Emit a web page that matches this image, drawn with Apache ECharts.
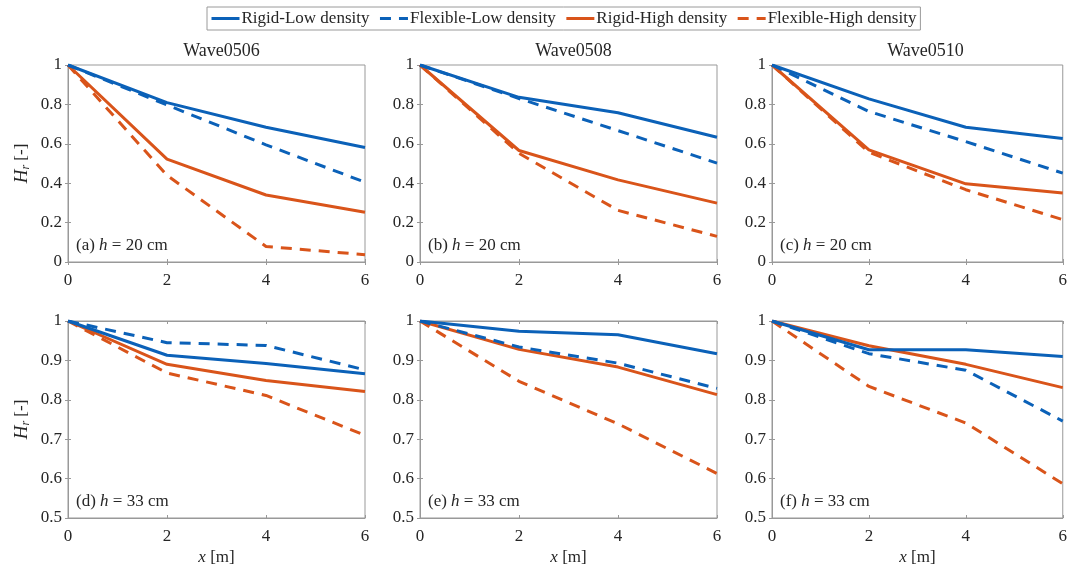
<!DOCTYPE html>
<html>
<head>
<meta charset="utf-8">
<script src="https://cdn.jsdelivr.net/npm/echarts@6/dist/echarts.min.js"></script>
<style>
  html, body { margin: 0; padding: 0; background: #fff; }
  #chart { width: 1070px; height: 567px; }
</style>
</head>
<body>
<div id="chart"></div>
<script>
// Distance along the vegetation patch [m]
const xValues = [0, 2, 4, 6];
const xTicks = [0, 2, 4, 6];

// Panel headings and annotations
const waveTitles = ['Wave0506', 'Wave0508', 'Wave0510'];
const panelTags = ['(a)', '(b)', '(c)', '(d)', '(e)', '(f)'];
const depthLabels = ['20 cm', '20 cm', '20 cm', '33 cm', '33 cm', '33 cm'];

// Relative wave height H_r per panel (a..f)
const rigidLow = [
  [1, 0.809, 0.684, 0.581],
  [1, 0.836, 0.758, 0.633],
  [1, 0.828, 0.684, 0.627],
  [1, 0.913, 0.892, 0.866],
  [1, 0.974, 0.965, 0.917],
  [1, 0.927, 0.927, 0.910]
];
const flexibleLow = [
  [1, 0.797, 0.595, 0.405],
  [1, 0.830, 0.667, 0.502],
  [1, 0.764, 0.611, 0.451],
  [1, 0.945, 0.938, 0.876],
  [1, 0.934, 0.893, 0.829],
  [1, 0.917, 0.875, 0.746]
];
const rigidHigh = [
  [1, 0.522, 0.340, 0.253],
  [1, 0.566, 0.417, 0.299],
  [1, 0.569, 0.397, 0.350],
  [1, 0.890, 0.849, 0.821],
  [1, 0.928, 0.883, 0.813],
  [1, 0.937, 0.890, 0.831]
];
const flexibleHigh = [
  [1, 0.440, 0.079, 0.037],
  [1, 0.552, 0.262, 0.130],
  [1, 0.557, 0.367, 0.215],
  [1, 0.868, 0.811, 0.710],
  [1, 0.847, 0.739, 0.613],
  [1, 0.834, 0.741, 0.587]
];

const seriesNames = ['Rigid-Low density', 'Flexible-Low density', 'Rigid-High density', 'Flexible-High density'];
const seriesData = [rigidLow, flexibleLow, rigidHigh, flexibleHigh];
const BLUE = '#0b61b8';
const ORANGE = '#d9541a';
const seriesColors = [BLUE, BLUE, ORANGE, ORANGE];
const seriesDash = ['solid', [11, 8], 'solid', [11, 8]];

const FONT = "'Liberation Serif', 'Times New Roman', serif";
const TEXT = '#262626';
const AXIS = '#999999';

const colLeft = [68, 420, 772];
const rowTop = [65, 321];
const gridW = 297;
const gridH = 197;

const grids = [], xAxes = [], yAxes = [], series = [], titles = [];

for (let p = 0; p < 6; p++) {
  const row = Math.floor(p / 3), col = p % 3;
  grids.push({
    left: colLeft[col], top: rowTop[row], width: gridW, height: gridH,
    show: true, borderColor: AXIS, borderWidth: 1, backgroundColor: '#fff'
  });
  const yMin = row === 0 ? 0 : 0.5;
  const yInt = row === 0 ? 0.2 : 0.1;
  const tick = { show: true, inside: true, length: 3, lineStyle: { color: AXIS } };
  const xName = row === 1 ? '{i|x} [m]' : '';
  xAxes.push({
    gridIndex: p, type: 'value', min: 0, max: 6, interval: 2,
    axisLine: { show: true, lineStyle: { color: AXIS } },
    axisTick: tick, splitLine: { show: false },
    axisLabel: { color: TEXT, fontFamily: FONT, fontSize: 17, margin: 10,
                 formatter: v => xTicks.includes(v) ? String(v) : '' },
    name: xName, nameLocation: 'middle', nameGap: 31,
    nameTextStyle: { color: TEXT, fontFamily: FONT, fontSize: 17,
      rich: { i: { fontStyle: 'italic', fontFamily: FONT, fontSize: 17, color: TEXT } } }
  });
  xAxes.push({
    gridIndex: p, type: 'value', min: 0, max: 6, interval: 2, position: 'top',
    axisLine: { show: true, lineStyle: { color: AXIS } },
    axisTick: tick, axisLabel: { show: false }, splitLine: { show: false }
  });
  const yName = col === 0 ? '{h|H}{r|r} [-]' : '';
  yAxes.push({
    gridIndex: p, type: 'value', min: yMin, max: 1, interval: yInt,
    axisLine: { show: true, lineStyle: { color: AXIS } },
    axisTick: tick, splitLine: { show: false },
    axisLabel: { color: TEXT, fontFamily: FONT, fontSize: 17, margin: 6,
                 formatter: v => String(Math.round(v * 10) / 10) },
    name: yName, nameLocation: 'middle', nameGap: 36, nameRotate: 90,
    nameTextStyle: { color: TEXT, fontFamily: FONT, fontSize: 17,
      rich: {
        h: { fontStyle: 'italic', fontFamily: FONT, fontSize: 19, color: TEXT },
        r: { fontStyle: 'italic', fontFamily: FONT, fontSize: 12, color: TEXT, verticalAlign: 'bottom', padding: [8, 0, 0, 0] }
      } }
  });
  yAxes.push({
    gridIndex: p, type: 'value', min: yMin, max: 1, interval: yInt, position: 'right',
    axisLine: { show: true, lineStyle: { color: AXIS } },
    axisTick: tick, axisLabel: { show: false }, splitLine: { show: false }
  });

  for (let s = 0; s < 4; s++) {
    series.push({
      name: seriesNames[s], type: 'line',
      xAxisIndex: p * 2, yAxisIndex: p * 2,
      data: xValues.map((x, k) => [x, seriesData[s][p][k]]),
      symbol: 'none', silent: true, animation: false,
      lineStyle: { color: seriesColors[s], width: 3, type: seriesDash[s] },
      itemStyle: { color: seriesColors[s] },
      z: 10 - s
    });
  }

  if (row === 0) {
    titles.push({
      text: waveTitles[col], left: colLeft[col] + gridW / 2, top: 37, textAlign: 'center',
      textStyle: { fontFamily: FONT, fontSize: 18, fontWeight: 'normal', color: TEXT }
    });
  }
  titles.push({
    text: panelTags[p] + ' {i|h} = ' + depthLabels[p],
    left: colLeft[col] + 3, top: rowTop[row] + gridH - 30,
    textStyle: { fontFamily: FONT, fontSize: 17, fontWeight: 'normal', color: TEXT,
      rich: { i: { fontStyle: 'italic', fontFamily: FONT, fontSize: 17, color: TEXT } } }
  });
}

const chart = echarts.init(document.getElementById('chart'), null, { renderer: 'canvas' });
chart.setOption({
  backgroundColor: '#fff',
  animation: false,
  title: titles,
  legend: {
    data: seriesNames, left: 207, top: 7,
    padding: [3, 4, 3, 3], itemGap: 9, itemWidth: 28, itemHeight: 14,
    borderColor: '#9a9a9a', borderWidth: 1,
    itemStyle: { color: 'rgba(0,0,0,0)', borderWidth: 0 },
    lineStyle: { width: 3 },
    textStyle: { fontFamily: FONT, fontSize: 17, color: TEXT, padding: [0, 0, 0, -3] },
    selectedMode: false
  },
  grid: grids,
  xAxis: xAxes,
  yAxis: yAxes,
  series: series
});
</script>
</body>
</html>
